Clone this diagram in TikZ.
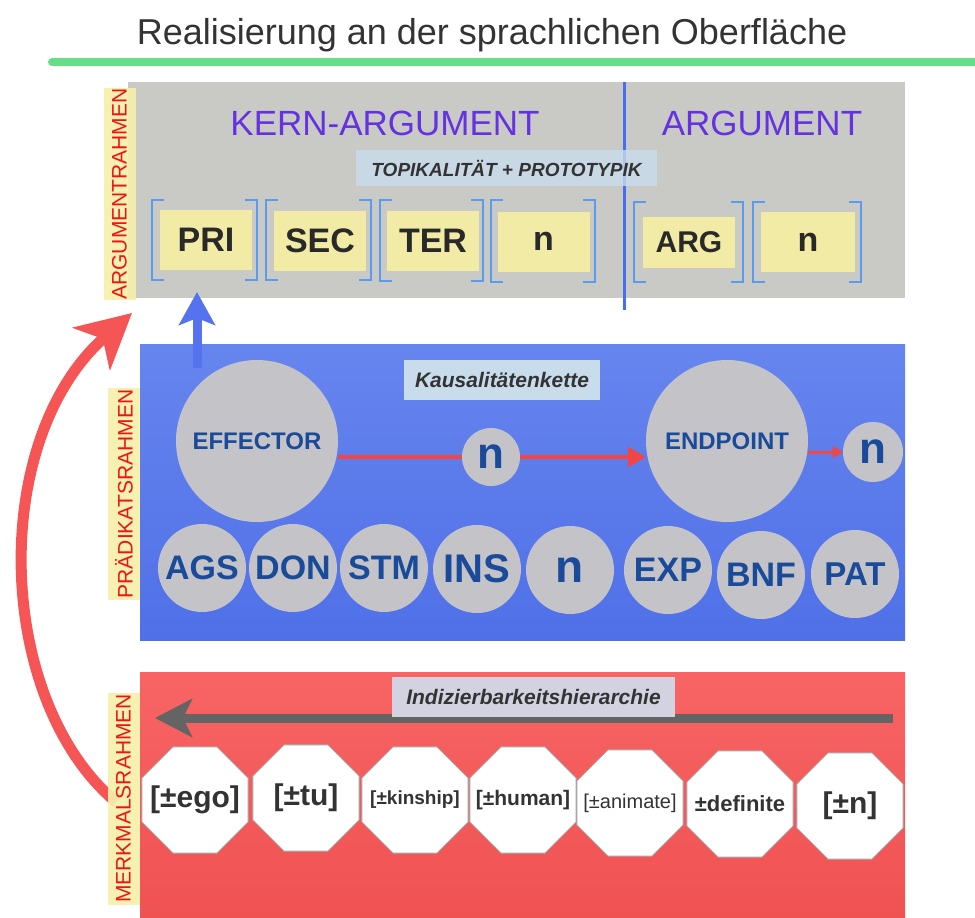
\documentclass[tikz,border=0pt]{standalone}
\usepackage{fontspec}
\setmainfont{Liberation Sans}
\usetikzlibrary{arrows.meta,shapes.geometric,calc}

\definecolor{titelgrau}{RGB}{51,51,51}
\definecolor{liniegruen}{RGB}{102,221,136}
\definecolor{argbg}{RGB}{201,201,197}
\definecolor{rahmengelb}{RGB}{246,240,170}
\definecolor{rahmenrot}{RGB}{238,20,20}
\definecolor{lila}{RGB}{100,50,225}
\definecolor{teilerblau}{RGB}{70,110,240}
\definecolor{etikettblau}{RGB}{200,220,236}
\definecolor{slotgelb}{RGB}{241,235,165}
\definecolor{klammerblau}{RGB}{90,155,238}
\definecolor{blauoben}{RGB}{102,133,238}
\definecolor{blauunten}{RGB}{80,112,232}
\definecolor{kreisgrau}{RGB}{196,196,200}
\definecolor{kreistext}{RGB}{26,74,154}
\definecolor{kettenrot}{RGB}{240,70,70}
\definecolor{rotoben}{RGB}{248,100,100}
\definecolor{rotunten}{RGB}{240,82,82}
\definecolor{hierarchiegrau}{RGB}{210,210,225}
\definecolor{pfeilgrau}{RGB}{100,100,100}
\definecolor{bogenrot}{RGB}{245,85,85}
\definecolor{hochblau}{RGB}{85,115,238}

\newcommand{\schrift}[1]{\fontsize{#1}{#1}\selectfont}

\begin{document}
\begin{tikzpicture}[x=1pt,y=-1pt,
    every node/.style={inner sep=0pt},
    rahmen/.style={fill=rahmengelb, fill opacity=0.92, text opacity=1, text=rahmenrot,
        rotate=90, minimum width=212pt, minimum height=32pt, font=\schrift{21}},
    etikett/.style={fill=etikettblau, text=titelgrau, font=\bfseries\itshape\schrift{19}},
    slot/.style={fill=slotgelb, text=titelgrau!80!black, font=\bfseries\schrift{34},
        minimum width=92pt, minimum height=60pt},
    klammer/.style={draw=klammerblau, line width=2pt},
    rolle/.style={circle, fill=kreisgrau, text=kreistext, font=\bfseries\schrift{34},
        minimum size=88pt},
    merkmal/.style={regular polygon, regular polygon sides=8, minimum size=115pt,
        fill=white, draw=gray!70, line width=0.8pt},
    kette/.style={draw=kettenrot, line width=4pt},
    ]
\useasboundingbox (0,0) rectangle (975,918);

% Titel
\node[anchor=base, font=\schrift{36}, text=titelgrau] (titel) at (492,45)
    {Realisierung an der sprachlichen Oberfläche};
\draw[liniegruen, line width=8pt, line cap=round] (52,62) -- (985,62);

% Argumentrahmen
\fill[argbg] (128,82) rectangle (905,298);
\node[text=lila, font=\schrift{35}] (kern) at (385,123) {KERN-ARGUMENT};
\node[text=lila, font=\schrift{35}] (argument) at (762,123) {ARGUMENT};
\draw[teilerblau, line width=3pt] (624,82) -- (624,310);
\node[etikett, fill opacity=0.8, text opacity=1, minimum width=301pt, minimum height=36pt]
    (topik) at (506.5,168) {TOPIKALITÄT + PROTOTYPIK};

\node[slot] (pri) at (206,239.5) {PRI};
\node[slot] (sec) at (320,240.5) {SEC};
\node[slot] (ter) at (433,240.5) {TER};
\node[slot, font=\bfseries\schrift{34}] (nkern) at (543.5,241.5) {n};
\node[slot, minimum height=51pt, font=\bfseries\schrift{30}] (argslot) at (689,242.5) {ARG};
\node[slot, minimum width=94pt, font=\bfseries\schrift{34}] (narg) at (808,242) {n};

% Klammern
\foreach \l/\r/\o/\u in {152/257/200/280, 266/371/200/280, 380/483/200/281,
                         491/595/200/282, 634/743/202/282, 753/861/202/282}{
    \draw[klammer] ({\l+12},\o) -- (\l,\o) -- (\l,\u) -- ({\l+12},\u);
    \draw[klammer] ({\r-12},\o) -- (\r,\o) -- (\r,\u) -- ({\r-12},\u);
}

% Praedikatsrahmen
\shade[top color=blauoben, bottom color=blauunten] (140,344) rectangle (905,640);
\node[etikett, font=\bfseries\itshape\schrift{21}, minimum width=196pt, minimum height=40pt]
    (kausal) at (502,380) {Kausalitätenkette};

\node[rolle, minimum size=162pt, font=\bfseries\schrift{24}] (effector) at (257,441) {EFFECTOR};
\node[rolle, minimum size=162pt, font=\bfseries\schrift{24}] (endpoint) at (727,441) {ENDPOINT};
\node[rolle, minimum size=58pt, font=\bfseries\schrift{44}] (kn1) at (491,457) {n};
\node[rolle, minimum size=60pt, font=\bfseries\schrift{44}] (kn2) at (873,452) {n};

\draw[kette] (effector.east |- kn1) -- (kn1.west);
\draw[kette, -{Triangle[length=18pt,width=20pt]}] (kn1.east) -- (endpoint.west |- kn1);
\draw[kette, line width=3pt, -{Triangle[length=10pt,width=12pt]}] (endpoint.east |- kn2) -- (kn2.west);

\foreach \name/\x/\y/\txt/\gr in {ags/202/568/AGS/34, don/293/568/DON/34, stm/384/568/STM/34,
        ins/477/569/INS/40, nrolle/570/570/n/46, exp/668/570/EXP/34, bnf/761/575/BNF/34,
        pat/855/574/PAT/33}
    \node[rolle, font=\bfseries\schrift{\gr}] (\name) at (\x,\y) {\txt};

% Pfeil nach oben
\coordinate (hochfuss) at (197,368);
\coordinate (hochspitze) at (197,292);
\draw[hochblau, line width=9pt, -{Stealth[length=33pt,width=36pt,inset=7pt]}] (hochfuss) -- (hochspitze);

% Merkmalsrahmen
\shade[top color=rotoben, bottom color=rotunten] (140,672) rectangle (905,918);
\coordinate (hstart) at (893,718);
\coordinate (hziel) at (155,718);
\draw[pfeilgrau, line width=9pt, -{Stealth[length=37pt,width=38pt,inset=9pt]}] (hstart) -- (hziel);
\node[etikett, fill=hierarchiegrau, font=\bfseries\itshape\schrift{21}, minimum width=283pt,
    minimum height=40pt] (index) at (533.5,697) {Indizierbarkeitshierarchie};

\foreach \name/\x/\y/\txt/\gr/\st in {ego/195/800/{[±ego]}/30/\bfseries, tu/306/798/{[±tu]}/30/\bfseries,
        kin/415/800/{[±kinship]}/19/\bfseries, hum/523/800/{[±human]}/21/\bfseries,
        ani/630/803/{[±animate]}/20/\mdseries, def/740/804/{±definite}/22/\bfseries,
        mn/850/806/{[±n]}/30/\bfseries}{
    \node[merkmal] (\name) at (\x,\y) {};
    \node[text=titelgrau, font=\st\schrift{\gr}] at (\name) {\txt};
}

% grosser Bogen
\coordinate (bogenstart) at (116,802);
\coordinate (bogenziel) at (132,313);
\draw[bogenrot, line width=11pt, -{Stealth[length=54pt,width=56pt,inset=15pt]}]
    (bogenstart) .. controls (-5,700) and (-12,440) .. (bogenziel);

% Rahmenetiketten
\node[rahmen] (argrahmen) at (119.5,194) {ARGUMENTRAHMEN};
\node[rahmen] (praedrahmen) at (124,494) {PRÄDIKATSRAHMEN};
\node[rahmen] (merkrahmen) at (123.5,798.5) {MERKMALSRAHMEN};
\end{tikzpicture}
\end{document}
